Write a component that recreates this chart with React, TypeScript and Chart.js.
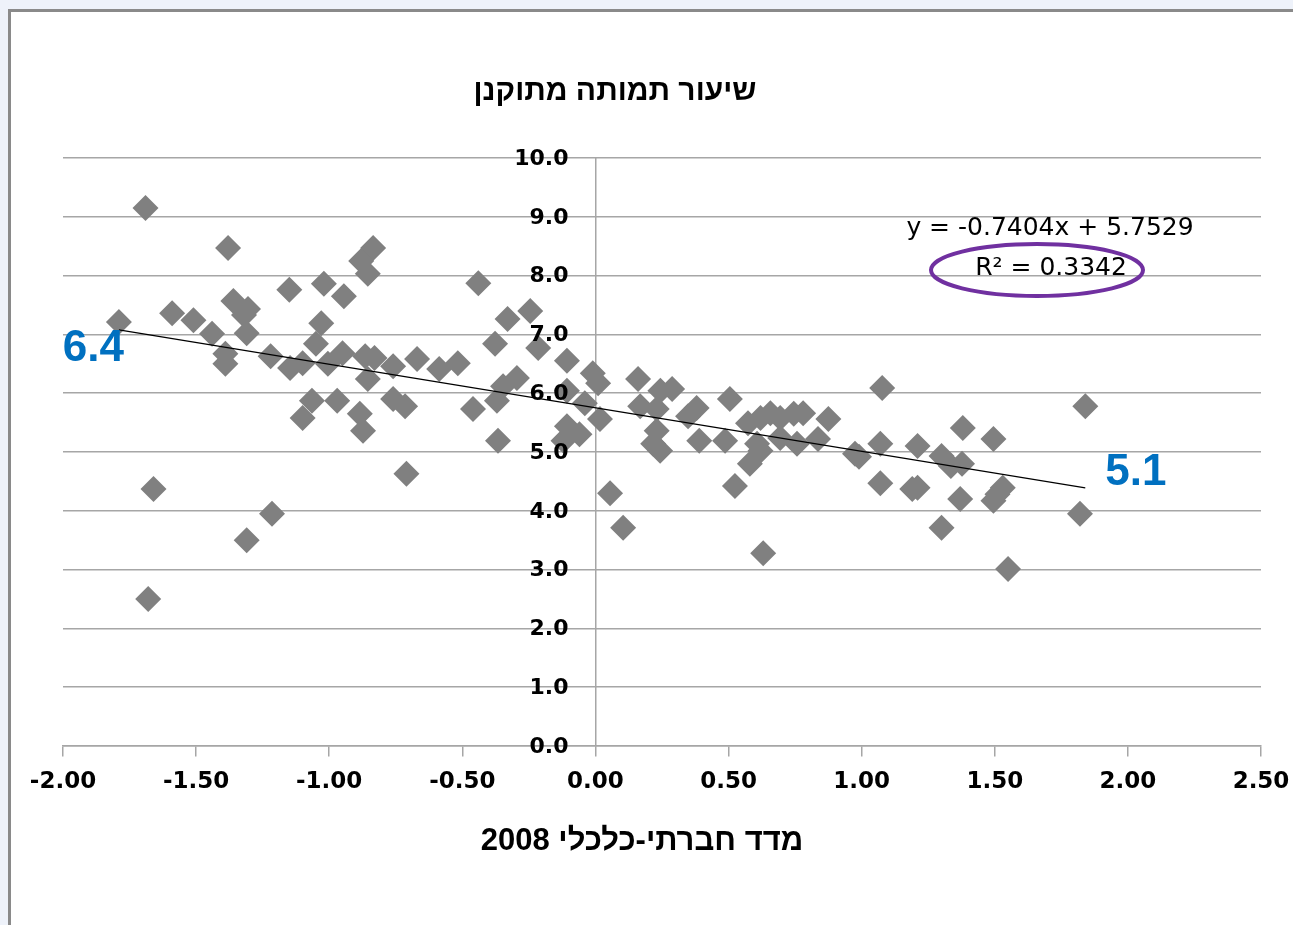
import React, { useEffect, useRef } from "react";
import { Chart, registerables } from "chart.js";

Chart.register(...registerables);

// ---- data ----
const X_VALUES = [
  -1.69, -1.79, -1.38, -1.59, -1.51, -1.44, -1.36, -1.305, -1.32, -1.31,
  -1.39, -1.39, -1.22, -1.147, -1.1, -1.15, -1.02, -0.945, -1.03, -1.05,
  -1.005, -0.95, -0.865, -0.83, -0.855, -0.76, -0.67, -0.587, -0.517, -1.065,
  -0.97, -1.1, -0.885, -0.873, -0.76, -0.715, -0.46, -0.835, -0.88, -0.855,
  -0.44, -0.33, -0.245, -0.377, -0.215, -0.107, -0.37, -0.347, -0.295, -0.366,
  -0.71, -0.107, -0.04, -0.01, 0.01, 0.017, -0.107, -0.06, -0.12, -1.66,
  -1.215, -1.31, -1.68,
  0.16, 0.244, 0.288, 0.168, 0.23, 0.348, 0.38, 0.23, 0.217, 0.243,
  0.39, 0.487, 0.505, 0.573, 0.62, 0.657, 0.694, 0.745, 0.78, 0.875,
  0.607, 0.62, 0.694, 0.757, 0.836, 0.58, 0.524, 0.055, 0.104, 0.63,
  0.975, 0.99, 1.077, 1.84, 1.38, 1.495, 1.07, 1.21, 1.3, 1.335,
  1.377, 1.07, 1.19, 1.21, 1.37, 1.495, 1.53, 1.51, 1.3, 1.82,
  1.55,
];
const Y_VALUES = [
  9.15, 7.21, 8.47, 7.36, 7.24, 7.01, 7.57, 7.43, 7.33, 7.02,
  6.67, 6.5, 6.63, 6.43, 6.51, 7.76, 7.86, 7.65, 7.19, 6.84,
  6.5, 6.68, 6.63, 6.6, 6.24, 6.46, 6.58, 6.41, 6.51, 5.87,
  5.87, 5.58, 5.65, 5.36, 5.9, 5.78, 5.73, 8.47, 8.25, 8.03,
  7.87, 7.26, 7.4, 6.84, 6.77, 6.55, 5.87, 6.12, 6.26, 5.19,
  4.63, 6.04, 5.83, 6.34, 6.17, 5.56, 5.44, 5.3, 5.19, 4.37,
  3.95, 3.5, 2.5,
  6.24, 6.04, 6.07, 5.78, 5.73, 5.61, 5.75, 5.36, 5.14, 5.02,
  5.19, 5.19, 5.9, 5.49, 5.58, 5.66, 5.58, 5.65, 5.66, 5.56,
  5.14, 5.02, 5.24, 5.14, 5.22, 4.8, 4.42, 4.3, 3.71, 3.28,
  4.97, 4.92, 6.09, 5.78, 5.41, 5.22, 5.14, 5.1, 4.93, 4.76,
  4.8, 4.47, 4.37, 4.39, 4.2, 4.17, 4.39, 4.28, 3.71, 3.95,
  3.01,
];

const TREND_SLOPE = -0.7404;
const TREND_INTERCEPT = 5.7529;
const R_SQUARED = "0.3342";

const X_TICK_LABELS = ["-2.00", "-1.50", "-1.00", "-0.50", "0.00", "0.50", "1.00", "1.50", "2.00", "2.50"];
const Y_TICK_LABELS = ["0.0", "1.0", "2.0", "3.0", "4.0", "5.0", "6.0", "7.0", "8.0", "9.0", "10.0"];

const CHART_TITLE = "שיעור תמותה מתוקנן";
const X_AXIS_TITLE = "מדד חברתי-כלכלי 2008";
const LEFT_NOTE = "6.4";
const RIGHT_NOTE = "5.1";

const GRID = "#a6a6a6";
const TICK_FONT = '"DejaVu Sans", sans-serif';

export default function App() {
  const canvasRef = useRef<HTMLCanvasElement | null>(null);

  useEffect(() => {
    if (!canvasRef.current) return;
    const points = X_VALUES.map((x, i) => ({ x, y: Y_VALUES[i] }));
    const xMin = Math.min(...X_VALUES);
    const xMax = Math.max(...X_VALUES);
    const trend = [
      { x: xMin, y: TREND_SLOPE * xMin + TREND_INTERCEPT },
      { x: xMax, y: TREND_SLOPE * xMax + TREND_INTERCEPT },
    ];

    const overlay = {
      id: "overlay",
      afterDraw(chart: any) {
        const ctx = chart.ctx as CanvasRenderingContext2D;
        const xs = chart.scales.x;
        const ys = chart.scales.y;
        ctx.save();

        // y tick labels, placed left of the y axis (which crosses at x = 0)
        ctx.fillStyle = "#000";
        ctx.font = `bold 22px ${TICK_FONT}`;
        ctx.textAlign = "right";
        ctx.textBaseline = "middle";
        const axisX = xs.getPixelForValue(0);
        ys.ticks.forEach((t: any, i: number) => {
          ctx.fillText(Y_TICK_LABELS[i], axisX - 27, ys.getPixelForValue(t.value) + 1);
        });

        ctx.textAlign = "center";
        (ctx as any).direction = "rtl";
        ctx.font = 'bold 30px "Liberation Sans", Arial, sans-serif';
        ctx.fillText(CHART_TITLE, 615, 92);
        ctx.font = 'bold 31px "Liberation Sans", Arial, sans-serif';
        ctx.fillText(X_AXIS_TITLE, 642, 841);
        (ctx as any).direction = "ltr";

        ctx.font = '25px "DejaVu Sans", sans-serif';
        ctx.fillText(`y = ${TREND_SLOPE}x + ${TREND_INTERCEPT}`, 1050, 228);
        ctx.fillText(`R² = ${R_SQUARED}`, 1051, 268);

        ctx.beginPath();
        ctx.ellipse(1037, 270, 106, 26, 0, 0, Math.PI * 2);
        ctx.strokeStyle = "#7030A0";
        ctx.lineWidth = 4;
        ctx.stroke();

        ctx.fillStyle = "#0070C0";
        ctx.font = 'bold 44px "Liberation Sans", Arial, sans-serif';
        const lx = xs.getPixelForValue(trend[0].x);
        const ly = ys.getPixelForValue(trend[0].y);
        ctx.textAlign = "right";
        ctx.fillText(LEFT_NOTE, lx + 5, ly + 19);
        const rx = xs.getPixelForValue(trend[1].x);
        const ry = ys.getPixelForValue(trend[1].y);
        ctx.textAlign = "left";
        ctx.fillText(RIGHT_NOTE, rx + 20, ry - 15);
        ctx.restore();
      },
    };

    const chart = new Chart(canvasRef.current, {
      type: "scatter",
      data: {
        datasets: [
          {
            type: "line",
            label: "trend",
            data: trend,
            borderColor: "#000",
            borderWidth: 1.2,
            pointRadius: 0,
            fill: false,
            order: 0,
          } as any,
          {
            label: "points",
            data: points,
            pointStyle: "rectRot",
            pointRadius: 13,
            pointHoverRadius: 13,
            backgroundColor: "#808080",
            borderColor: "#808080",
            borderWidth: 0,
            order: 1,
          },
        ],
      },
      options: {
        animation: false,
        responsive: false,
        devicePixelRatio: 1,
        events: [],
        layout: { autoPadding: false, padding: { left: 63, right: 32, top: 158, bottom: 179 } } as any,
        plugins: {
          legend: { display: false },
          title: { display: false },
          tooltip: { enabled: false },
        },
        scales: {
          x: {
            type: "linear",
            position: { y: 0 } as any,
            min: -2,
            max: 2.5,
            ticks: {
              stepSize: 0.5,
              padding: 2,
              color: "#000",
              font: { family: TICK_FONT, size: 23, weight: "bold", lineHeight: 2.1 },
              callback: (_v: any, i: number) => X_TICK_LABELS[i],
              maxRotation: 0,
            },
            grid: { drawOnChartArea: false, drawTicks: true, tickLength: 10, color: GRID, lineWidth: 1.5 },
            border: { display: true, color: GRID, width: 1.5 },
          },
          y: {
            type: "linear",
            position: { x: 0 } as any,
            min: 0,
            max: 10,
            ticks: {
              stepSize: 1,
              display: false,
              callback: (_v: any, i: number) => Y_TICK_LABELS[i],
            },
            grid: { drawOnChartArea: true, drawTicks: false, color: GRID, lineWidth: 1.5 },
            border: { display: true, color: GRID, width: 1.5 },
          },
        },
      },
      plugins: [overlay],
    });
    return () => chart.destroy();
  }, []);

  return (
    <div style={{ position: "absolute", left: 0, top: 0, width: 1293, height: 925, background: "#eef2fa", overflow: "hidden" }}>
      <div
        style={{
          position: "absolute",
          left: 8,
          top: 9,
          width: 1300,
          height: 930,
          background: "#fff",
          borderTop: "3px solid #8a8a8a",
          borderLeft: "3px solid #8a8a8a",
        }}
      />
      <canvas ref={canvasRef} width={1293} height={925} style={{ position: "absolute", left: 0, top: 0 }} />
    </div>
  );
}
